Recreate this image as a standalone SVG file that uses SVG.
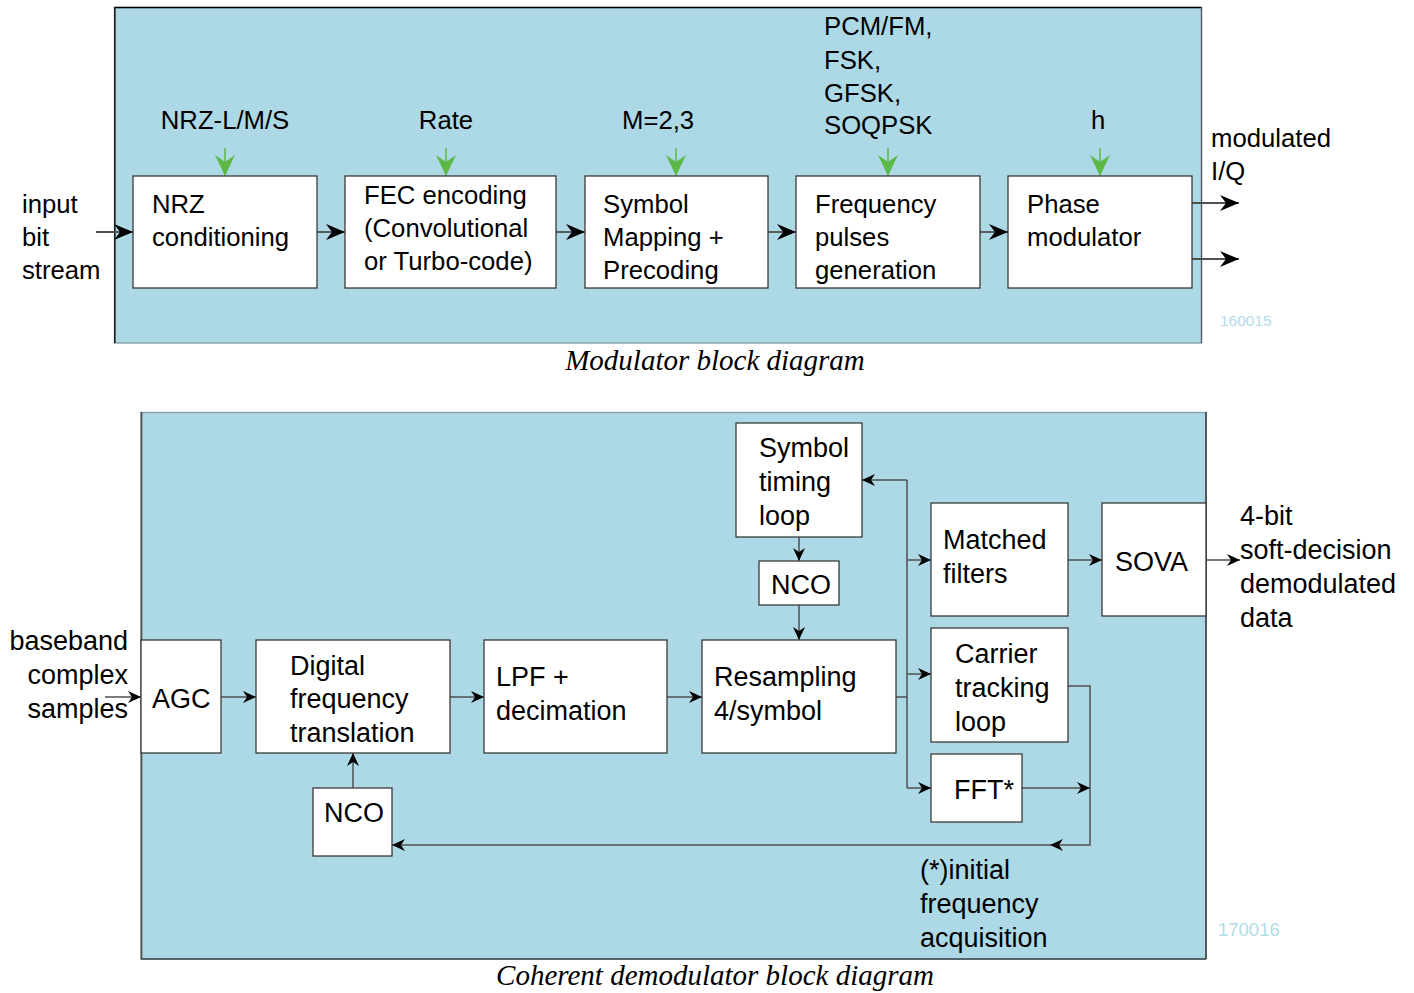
<svg xmlns="http://www.w3.org/2000/svg" width="1414" height="993" viewBox="0 0 1414 993">
<defs>
<style>
.t{font-family:"Liberation Sans",Arial,sans-serif;font-size:25.7px;fill:#000}
.d{font-family:"Liberation Sans",Arial,sans-serif;font-size:27px;fill:#000}
.cap{font-family:"Liberation Serif","Times New Roman",serif;font-style:italic;font-size:29px;fill:#000}
.num{font-family:"Liberation Sans",Arial,sans-serif;font-size:15.5px;fill:#b3dbe9}
.box{fill:#fff;stroke:#3a3a3a;stroke-width:1.3}
.ln{fill:none;stroke:#505050;stroke-width:1.5}
.lb{fill:none;stroke:#505050;stroke-width:1.8}
.gr{fill:none;stroke:#5cb946;stroke-width:1.5}
</style>
<marker id="ab" viewBox="-20 -10 20 20" refX="0" refY="0" markerWidth="20" markerHeight="20" markerUnits="userSpaceOnUse" orient="auto"><path d="M0,0 L-19,-8 L-13,0 L-19,8 z" fill="#000"/></marker>
<marker id="as" viewBox="-14 -7 14 14" refX="0" refY="0" markerWidth="14" markerHeight="14" markerUnits="userSpaceOnUse" orient="auto"><path d="M0,0 L-13,-6 L-9,0 L-13,6 z" fill="#000"/></marker>
<marker id="ag" viewBox="-22 -11 22 22" refX="0" refY="0" markerWidth="22" markerHeight="22" markerUnits="userSpaceOnUse" orient="auto"><path d="M0,0 L-21,-10 L-14,0 L-21,10 z" fill="#5cb946"/></marker>
</defs>

<!-- Modulator panel -->
<g id="modulator-panel">
<rect x="114.5" y="7.5" width="1087" height="335.5" fill="#add8e6" stroke="#7f9ba5" stroke-width="1.3"/>
<line x1="114" y1="7.5" x2="1202" y2="7.5" stroke="#000" stroke-width="1.5"/>
<line x1="114.8" y1="7" x2="114.8" y2="343" stroke="#1a1a1a" stroke-width="1.6"/>
<line x1="1201.5" y1="7" x2="1201.5" y2="343" stroke="#5a5a5a" stroke-width="1.3"/>
</g>

<g id="mod-connectors">
<line class="lb" x1="96" y1="232" x2="133" y2="232" marker-end="url(#ab)"/>
<line class="lb" x1="317" y1="232" x2="345" y2="232" marker-end="url(#ab)"/>
<line class="lb" x1="556" y1="232" x2="585" y2="232" marker-end="url(#ab)"/>
<line class="lb" x1="768" y1="232" x2="796" y2="232" marker-end="url(#ab)"/>
<line class="lb" x1="980" y1="232" x2="1008" y2="232" marker-end="url(#ab)"/>
<line class="lb" x1="1192" y1="203" x2="1239" y2="203" marker-end="url(#ab)"/>
<line class="lb" x1="1192" y1="259" x2="1239" y2="259" marker-end="url(#ab)"/>
<line class="gr" x1="225" y1="148" x2="225" y2="176" marker-end="url(#ag)"/>
<line class="gr" x1="446" y1="148" x2="446" y2="176" marker-end="url(#ag)"/>
<line class="gr" x1="676" y1="148" x2="676" y2="176" marker-end="url(#ag)"/>
<line class="gr" x1="888" y1="148" x2="888" y2="176" marker-end="url(#ag)"/>
<line class="gr" x1="1100" y1="148" x2="1100" y2="176" marker-end="url(#ag)"/>
</g>

<g id="nrz">
<rect class="box" x="133" y="176" width="184" height="112"/>
<text class="t" x="152" y="213">NRZ</text>
<text class="t" x="152" y="246">conditioning</text>
</g>
<g id="fec">
<rect class="box" x="345" y="176" width="211" height="112"/>
<text class="t" x="364" y="204">FEC encoding</text>
<text class="t" x="364" y="237">(Convolutional</text>
<text class="t" x="364" y="270">or Turbo-code)</text>
</g>
<g id="symmap">
<rect class="box" x="585" y="176" width="183" height="112"/>
<text class="t" x="603" y="213">Symbol</text>
<text class="t" x="603" y="246">Mapping +</text>
<text class="t" x="603" y="279">Precoding</text>
</g>
<g id="freqpulse">
<rect class="box" x="796" y="176" width="184" height="112"/>
<text class="t" x="815" y="213">Frequency</text>
<text class="t" x="815" y="246">pulses</text>
<text class="t" x="815" y="279">generation</text>
</g>
<g id="phasemod">
<rect class="box" x="1008" y="176" width="184" height="112"/>
<text class="t" x="1027" y="213">Phase</text>
<text class="t" x="1027" y="246">modulator</text>
</g>

<g id="mod-labels">
<text class="t" x="225" y="129" text-anchor="middle">NRZ-L/M/S</text>
<text class="t" x="446" y="129" text-anchor="middle">Rate</text>
<text class="t" x="622" y="129">M=2,3</text>
<text class="t" x="824" y="35">PCM/FM,</text>
<text class="t" x="824" y="69">FSK,</text>
<text class="t" x="824" y="102">GFSK,</text>
<text class="t" x="824" y="134">SOQPSK</text>
<text class="t" x="1091" y="129">h</text>
<text class="t" x="22" y="213">input</text>
<text class="t" x="22" y="246">bit</text>
<text class="t" x="22" y="279">stream</text>
<text class="t" x="1211" y="147">modulated</text>
<text class="t" x="1211" y="180">I/Q</text>
<text class="num" x="1220" y="326">160015</text>
<text class="cap" x="715" y="370" text-anchor="middle">Modulator block diagram</text>
</g>

<!-- Demodulator panel -->
<g id="demod-panel">
<rect x="141" y="412.5" width="1065" height="546.5" fill="#add8e6" stroke="#7f9ba5" stroke-width="1.3"/>
<line x1="141.5" y1="412" x2="141.5" y2="959" stroke="#555" stroke-width="1.8"/>
<line x1="1206" y1="412" x2="1206" y2="959" stroke="#3a3a3a" stroke-width="1.5"/>
<line x1="141" y1="959" x2="1206" y2="959" stroke="#3a4a50" stroke-width="1.3"/>
</g>

<g id="demod-connectors">
<line class="ln" x1="105" y1="697" x2="141" y2="697" marker-end="url(#as)"/>
<line class="ln" x1="221" y1="697" x2="256" y2="697" marker-end="url(#as)"/>
<line class="ln" x1="450" y1="697" x2="484" y2="697" marker-end="url(#as)"/>
<line class="ln" x1="667" y1="697" x2="702" y2="697" marker-end="url(#as)"/>
<line class="ln" x1="353" y1="788" x2="353" y2="753" marker-end="url(#as)"/>
<line class="ln" x1="799" y1="537" x2="799" y2="561" marker-end="url(#as)"/>
<line class="ln" x1="799" y1="605" x2="799" y2="640" marker-end="url(#as)"/>
<polyline class="ln" points="896,697 907,697"/>
<line class="ln" x1="907" y1="480" x2="907" y2="788"/>
<line class="ln" x1="907" y1="480" x2="862" y2="480" marker-end="url(#as)"/>
<line class="ln" x1="907" y1="560" x2="931" y2="560" marker-end="url(#as)"/>
<line class="ln" x1="907" y1="674" x2="931" y2="674" marker-end="url(#as)"/>
<line class="ln" x1="907" y1="788" x2="931" y2="788" marker-end="url(#as)"/>
<line class="ln" x1="1068" y1="560" x2="1102" y2="560" marker-end="url(#as)"/>
<line class="ln" x1="1206" y1="560" x2="1240" y2="560" marker-end="url(#as)"/>
<polyline class="ln" points="1068,686 1090,686 1090,845 1050,845" marker-end="url(#as)"/>
<line class="ln" x1="1050" y1="845" x2="392" y2="845" marker-end="url(#as)"/>
<line class="ln" x1="1022" y1="788" x2="1090" y2="788" marker-end="url(#as)"/>
</g>

<g id="agc">
<rect class="box" x="141" y="640" width="80" height="113"/>
<text class="d" x="152" y="708">AGC</text>
</g>
<g id="dft">
<rect class="box" x="256" y="640" width="194" height="113"/>
<text class="d" x="290" y="675">Digital</text>
<text class="d" x="290" y="708">frequency</text>
<text class="d" x="290" y="742">translation</text>
</g>
<g id="nco1">
<rect class="box" x="313" y="788" width="79" height="68"/>
<text class="d" x="324" y="822">NCO</text>
</g>
<g id="lpf">
<rect class="box" x="484" y="640" width="183" height="113"/>
<text class="d" x="496" y="686">LPF +</text>
<text class="d" x="496" y="720">decimation</text>
</g>
<g id="resamp">
<rect class="box" x="702" y="640" width="194" height="113"/>
<text class="d" x="714" y="686">Resampling</text>
<text class="d" x="714" y="720">4/symbol</text>
</g>
<g id="stl">
<rect class="box" x="736" y="423" width="126" height="114"/>
<text class="d" x="759" y="457">Symbol</text>
<text class="d" x="759" y="491">timing</text>
<text class="d" x="759" y="525">loop</text>
</g>
<g id="nco2">
<rect class="box" x="759" y="561" width="80" height="44"/>
<text class="d" x="771" y="594">NCO</text>
</g>
<g id="matched">
<rect class="box" x="931" y="503" width="137" height="113"/>
<text class="d" x="943" y="549">Matched</text>
<text class="d" x="943" y="583">filters</text>
</g>
<g id="sova">
<rect class="box" x="1102" y="503" width="104" height="113"/>
<text class="d" x="1115" y="571">SOVA</text>
</g>
<g id="carrier">
<rect class="box" x="931" y="628" width="137" height="114"/>
<text class="d" x="955" y="663">Carrier</text>
<text class="d" x="955" y="697">tracking</text>
<text class="d" x="955" y="731">loop</text>
</g>
<g id="fft">
<rect class="box" x="931" y="754" width="91" height="68"/>
<text class="d" x="954" y="799">FFT*</text>
</g>

<g id="demod-labels">
<text class="d" x="128" y="650" text-anchor="end">baseband</text>
<text class="d" x="128" y="684" text-anchor="end">complex</text>
<text class="d" x="128" y="718" text-anchor="end">samples</text>
<text class="d" x="1240" y="525">4-bit</text>
<text class="d" x="1240" y="559">soft-decision</text>
<text class="d" x="1240" y="593">demodulated</text>
<text class="d" x="1240" y="627">data</text>
<text class="d" x="920" y="879">(*)initial</text>
<text class="d" x="920" y="913">frequency</text>
<text class="d" x="920" y="947">acquisition</text>
<text class="num" x="1218" y="936" style="font-size:18.5px">170016</text>
<text class="cap" x="715" y="985" text-anchor="middle">Coherent demodulator block diagram</text>
</g>
</svg>
